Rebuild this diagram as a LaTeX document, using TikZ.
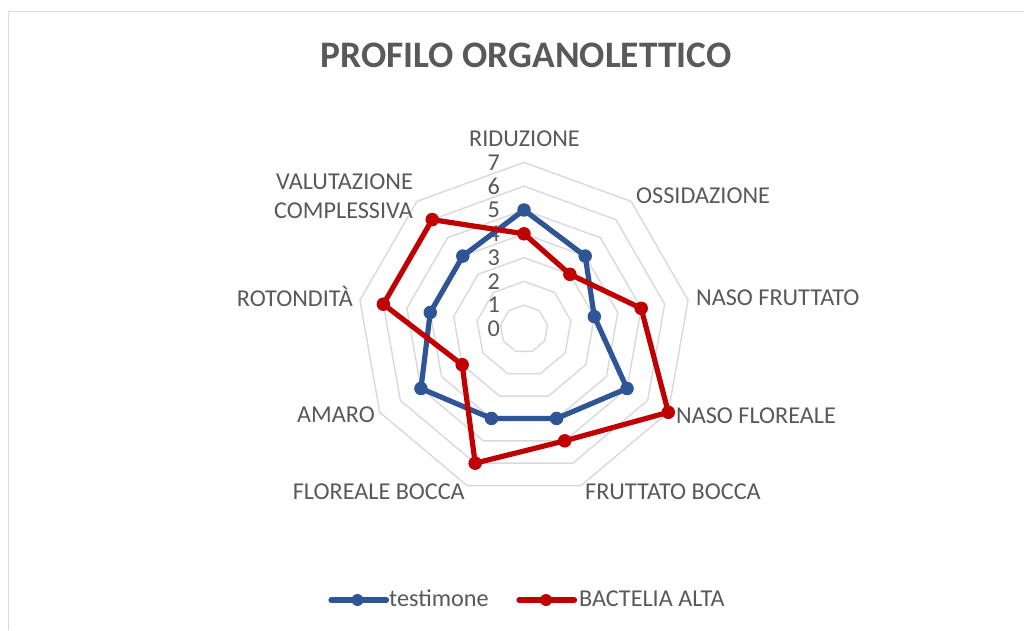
\documentclass[tikz,border=0pt]{standalone}
\usepackage{fontspec}
\setmainfont{Carlito}
\usetikzlibrary{calc}
\definecolor{txt}{HTML}{595959}
\definecolor{ring}{HTML}{D9D9D9}
\definecolor{frame}{HTML}{D9D9D9}
\definecolor{ser1}{HTML}{2F5597}
\definecolor{ser2}{HTML}{C00000}
\tikzset{
  lab/.style={text=txt, inner sep=0pt, font=\fontsize{24.2}{29}\selectfont},
  ttl/.style={text=txt, inner sep=0pt, font=\fontsize{37.4}{42}\selectfont\bfseries},
  ringline/.style={draw=ring, line width=1.4pt},
  s1line/.style={draw=ser1, line width=5.2pt, line join=round, line cap=round},
  s2line/.style={draw=ser2, line width=5.2pt, line join=round, line cap=round},
  s1mark/.style={circle, fill=ser1, inner sep=0pt, minimum size=13.5pt},
  s2mark/.style={circle, fill=ser2, inner sep=0pt, minimum size=13.5pt},
  l1mark/.style={circle, fill=ser1, inner sep=0pt, minimum size=12pt},
  l2mark/.style={circle, fill=ser2, inner sep=0pt, minimum size=12pt},
}
\begin{document}
\begin{tikzpicture}[x=1pt,y=1pt]
\useasboundingbox (0,0) rectangle (1024,630);
\fill[white] (0,0) rectangle (1024,630);
% frame
\draw[frame, line width=1.3pt] (8.5,0) -- (8.5,618.5) -- (1024,618.5);
% title
\node[ttl] (title) at (526,574.7) {PROFILO ORGANOLETTICO};
\coordinate (C) at (524,301);
\def\u{23.8}
% rings
\foreach \r in {1,...,7}{
  \draw[ringline] ($(C)+(90:\r*\u)$)
    \foreach \i in {1,...,8}{ -- ($(C)+({90-40*\i}:\r*\u)$) } -- cycle;
}
% tick labels
\foreach \k in {0,...,7}{
  \node[lab, anchor=east] (t\k) at (500,{301+\k*\u}) {\k};
}
% category labels
\node[lab, anchor=base] (c0) at (524.5,483.6) {RIDUZIONE};
\node[lab, anchor=base west] (c1) at (636,426.9) {OSSIDAZIONE};
\node[lab, anchor=base west] (c2) at (696,324.6) {NASO FRUTTATO};
\node[lab, anchor=base west] (c3) at (676,206.9) {NASO FLOREALE};
\node[lab, anchor=base west] (c4) at (585,130.6) {FRUTTATO BOCCA};
\node[lab, anchor=base east] (c5) at (465,130.6) {FLOREALE BOCCA};
\node[lab, anchor=base east] (c6) at (375,207.6) {AMARO};
\node[lab, anchor=base east] (c7) at (353,323.6) {ROTONDITÀ};
\node[lab, anchor=east, align=right] (c8) at (413,433.8) {VALUTAZIONE\\COMPLESSIVA};
% series 1: testimone
\foreach \v [count=\i from 0] in {5,4,3,5,4,4,5,4,4}{
  \coordinate (b\i) at ($(C)+({90-40*\i}:\v*\u)$);
}
\draw[s1line] (b0) -- (b1) -- (b2) -- (b3) -- (b4) -- (b5) -- (b6) -- (b7) -- (b8) -- cycle;
\foreach \i in {0,...,8}{ \node[s1mark] (bm\i) at (b\i) {}; }
% series 2: BACTELIA ALTA
\foreach \v [count=\i from 0] in {4,3,5,7,5,6,3,6,6}{
  \coordinate (r\i) at ($(C)+({90-40*\i}:\v*\u)$);
}
\draw[s2line] (r0) -- (r1) -- (r2) -- (r3) -- (r4) -- (r5) -- (r6) -- (r7) -- (r8) -- cycle;
\foreach \i in {0,...,8}{ \node[s2mark] (rm\i) at (r\i) {}; }
% legend
\coordinate (lb1) at (331,30);
\coordinate (lb2) at (386.5,30);
\draw[s1line] (lb1) -- (lb2);
\node[l1mark] (lbm) at (357.5,30) {};
\node[lab, anchor=base west] (lbt) at (389,23.3) {testimone};
\coordinate (lr1) at (519,30);
\coordinate (lr2) at (574.5,30);
\draw[s2line] (lr1) -- (lr2);
\node[l2mark] (lrm) at (546,30) {};
\node[lab, anchor=base west] (lrt) at (579,23.3) {BACTELIA ALTA};
\end{tikzpicture}
\end{document}
